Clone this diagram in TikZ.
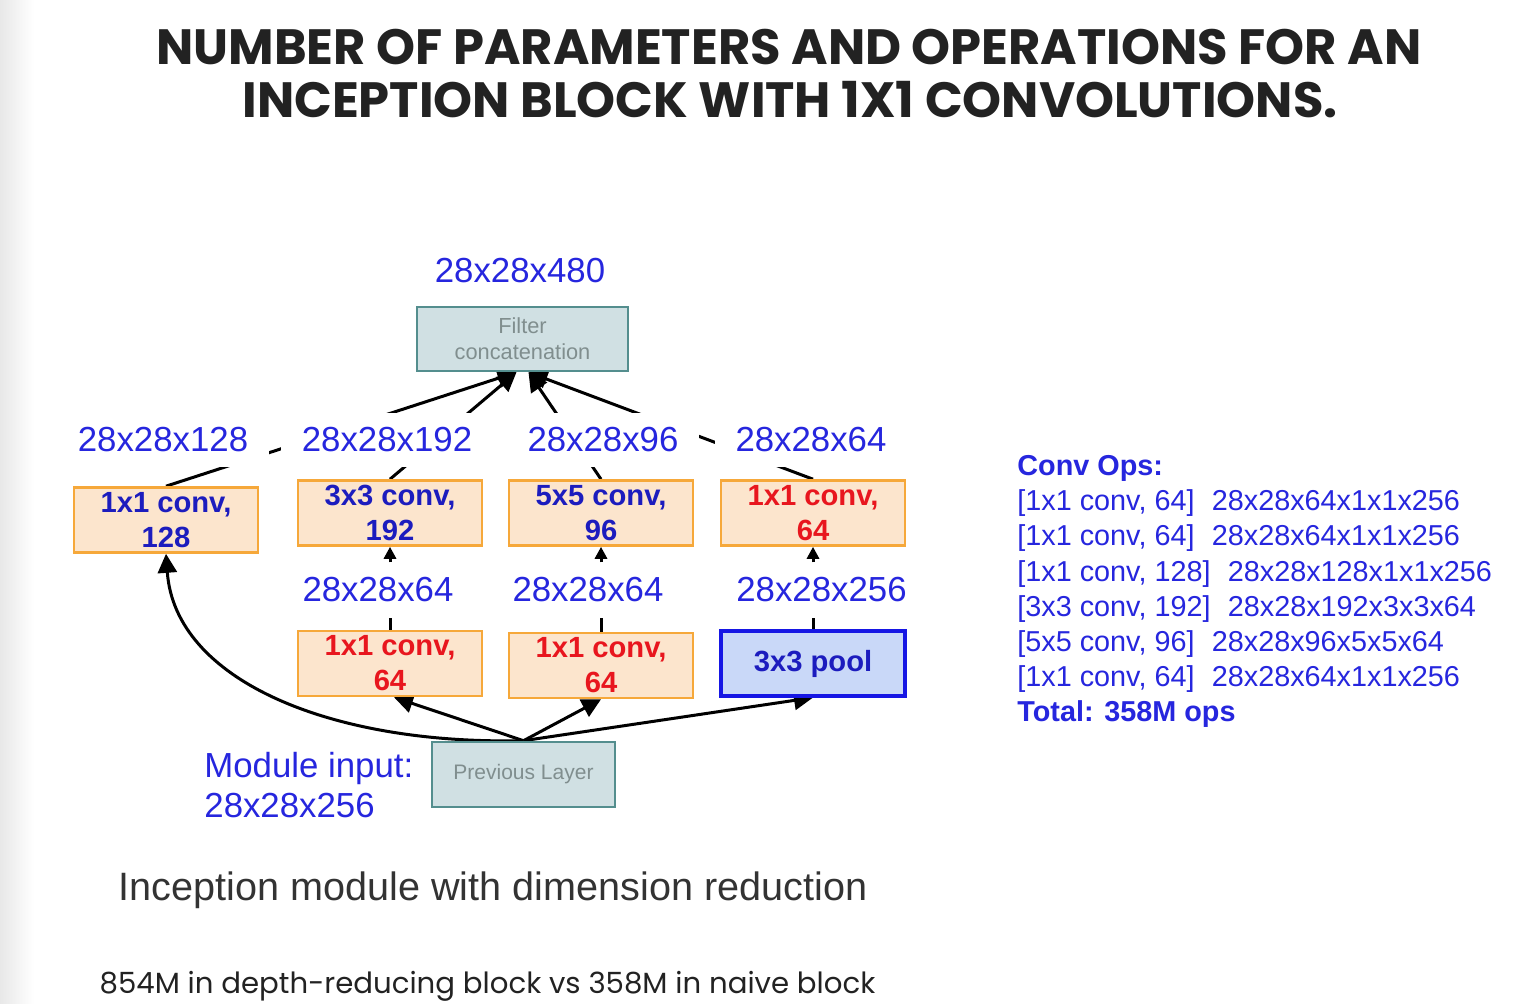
\documentclass[tikz,border=0pt]{standalone}
\usepackage{fontspec}
\setmainfont{Liberation Sans}
\newfontfamily\titlefont{Poppins}
\usetikzlibrary{arrows.meta}
\pgfdeclarelayer{bg}
\pgfsetlayers{bg,main}
\definecolor{lblue}{RGB}{38,38,222}
\definecolor{bblue}{RGB}{28,28,190}
\definecolor{bred}{RGB}{232,22,30}
\definecolor{ofill}{RGB}{252,229,205}
\definecolor{oline}{RGB}{246,168,58}
\definecolor{gfill}{RGB}{208,224,227}
\definecolor{gline}{RGB}{84,142,142}
\definecolor{gtext}{RGB}{128,142,142}
\definecolor{pfill}{RGB}{201,216,248}
\definecolor{pline}{RGB}{22,22,228}
\definecolor{ttext}{RGB}{34,34,34}
\definecolor{ctext}{RGB}{51,51,51}
\begin{document}
\begin{tikzpicture}[x=0.5pt,y=-0.5pt,
 convbox/.style={draw=oline,fill=ofill,line width=1.3pt,minimum width=92pt,minimum height=32.5pt,inner sep=0pt,align=center,font=\fontsize{14.6}{17.5}\selectfont\bfseries},
 graybox/.style={draw=gline,fill=gfill,line width=1.3pt,minimum height=32pt,inner sep=0pt,align=center,text=gtext,font=\fontsize{10.9}{13}\selectfont},
 poolbox/.style={draw=pline,fill=pfill,line width=1.6pt,minimum width=92pt,minimum height=32.5pt,inner sep=0pt,align=center,text=bblue,font=\fontsize{14.6}{17.5}\selectfont\bfseries},
 dim/.style={fill=white,text=lblue,inner xsep=10.5pt,inner ysep=7.5pt,font=\fontsize{17.4}{20}\selectfont},
 link/.style={line width=1.5pt,black},
 arr/.style={link,-{Triangle[length=9.5pt,width=9.5pt]}},
 sarr/.style={link,-{Triangle[length=6pt,width=6pt]}},
 ops/.style={anchor=base west,text=lblue,inner sep=0pt,font=\fontsize{14.4}{17.5}\selectfont},
]
\useasboundingbox (0,0) rectangle (1526,1004);
\shade[left color=black!9,right color=white,draw=none] (0,0) rectangle (34,1004);

% title
\node[text=ttext,font=\titlefont\bfseries\fontsize{24.8}{28}\selectfont] (t1) at (789,47) {NUMBER OF PARAMETERS AND OPERATIONS FOR AN};
\node[text=ttext,font=\titlefont\bfseries\fontsize{24.8}{28}\selectfont] (t2) at (790,100) {INCEPTION BLOCK WITH 1X1 CONVOLUTIONS.};

% boxes
\node[graybox,minimum width=105.5pt] (concat) at (522.5,339) {Filter\\concatenation};
\node[convbox,text=bblue] (b1) at (166,520) {1x1 conv,\\128};
\node[convbox,text=bblue] (b2) at (390,513) {3x3 conv,\\192};
\node[convbox,text=bblue] (b3) at (601,513) {5x5 conv,\\96};
\node[convbox,text=bred] (b4) at (813,513) {1x1 conv,\\64};
\node[convbox,text=bred] (b5) at (390,663.5) {1x1 conv,\\64};
\node[convbox,text=bred] (b6) at (601,665.5) {1x1 conv,\\64};
\node[poolbox] (pool) at (813,663.5) {3x3 pool};
\node[graybox,minimum width=91.5pt,minimum height=32.5pt,font=\fontsize{10.5}{13}\selectfont] (prev) at (523.5,774.5) {Previous Layer};

% dimension labels
\node[text=lblue,font=\fontsize{17.4}{20}\selectfont] (dout) at (520,271) {28x28x480};
\node[dim] (d1) at (163,440) {28x28x128};
\node[dim] (d2) at (387,440) {28x28x192};
\node[dim] (d3) at (603,440) {28x28x96};
\node[dim] (d4) at (811,440) {28x28x64};
\node[dim] (m1) at (378,590) {28x28x64};
\node[dim] (m2) at (588,590) {28x28x64};
\node[dim] (m3) at (821.5,590) {28x28x256};
\node[text=lblue,font=\fontsize{17.4}{20}\selectfont,align=left,anchor=west,inner sep=0pt] (min) at (204,785) {Module input:\\28x28x256};

\coordinate (cL) at ([xshift=-3pt]concat.south);
\coordinate (cR) at ([xshift=3pt]concat.south);

\begin{pgfonlayer}{bg}
\draw[arr] (b1.north) -- (cL);
\draw[arr] (b2.north) -- (cL);
\draw[arr] (b3.north) -- (cR);
\draw[arr] (b4.north) -- (cR);
\draw[link] (b5.north) -- (b5.north |- m1.south);
\draw[link] (b6.north) -- (b6.north |- m2.south);
\draw[link] (pool.north) -- (pool.north |- m3.south);
\draw[sarr] (b2.south |- m1.north) -- (b2.south);
\draw[sarr] (b3.south |- m2.north) -- (b3.south);
\draw[sarr] (b4.south |- m3.north) -- (b4.south);
\draw[arr] (prev.north) -- ([xshift=2pt]b5.south);
\draw[arr] (prev.north) -- (b6.south);
\draw[arr] (prev.north) -- (pool.south);
\draw[arr] (prev.north) .. controls (330,745) and (175,680) .. (b1.south);
\end{pgfonlayer}

% conv ops
\node[ops,font=\fontsize{14.4}{17.5}\selectfont\bfseries] (o0) at (1017,476) {Conv Ops:};
\node[ops] (o1) at (1017,511) {[1x1 conv, 64]\hspace{0.6em}28x28x64x1x1x256};
\node[ops] (o2) at (1017,546) {[1x1 conv, 64]\hspace{0.6em}28x28x64x1x1x256};
\node[ops] (o3) at (1017,582) {[1x1 conv, 128]\hspace{0.6em}28x28x128x1x1x256};
\node[ops] (o4) at (1017,617) {[3x3 conv, 192]\hspace{0.6em}28x28x192x3x3x64};
\node[ops] (o5) at (1017,652) {[5x5 conv, 96]\hspace{0.6em}28x28x96x5x5x64};
\node[ops] (o6) at (1017,687) {[1x1 conv, 64]\hspace{0.6em}28x28x64x1x1x256};
\node[ops,font=\fontsize{14.4}{17.5}\selectfont\bfseries] (o7) at (1017,722) {Total: 358M ops};

% captions
\node[text=ctext,font=\fontsize{19.8}{24}\selectfont] (cap) at (493,890) {Inception module with dimension reduction};
\node[text=ttext,font=\titlefont\fontsize{14.6}{18}\selectfont] (foot) at (487.5,986) {854M in depth-reducing block vs 358M in naive block};
\end{tikzpicture}
\end{document}
